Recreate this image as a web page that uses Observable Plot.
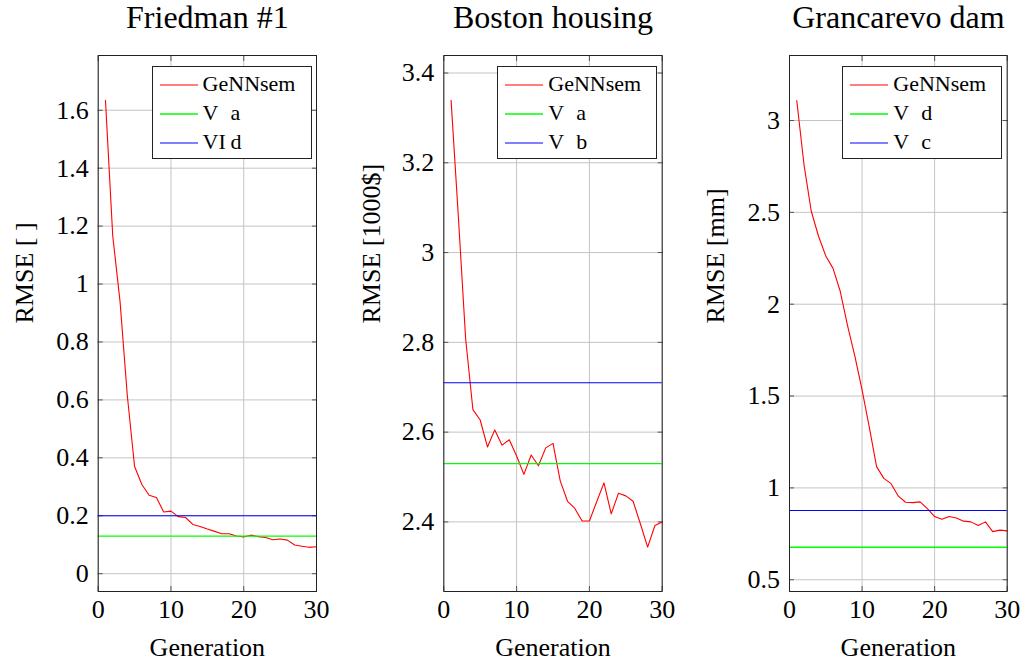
<!DOCTYPE html>
<html><head><meta charset="utf-8">
<script src="https://cdn.jsdelivr.net/npm/d3@7"></script>
<script src="https://cdn.jsdelivr.net/npm/@observablehq/plot@0.6"></script>
<style>
html,body{margin:0;padding:0;background:#fff;}
#root{position:relative;width:1023px;height:664px;overflow:hidden;font-family:"Liberation Serif",serif;}
.panel{position:absolute;top:0;}
.panel svg{overflow:visible;}
.legend{position:absolute;background:#fff;border:1px solid #222;box-sizing:border-box;font-size:22px;color:#000;}
.legend svg.sw{position:absolute;left:7px;width:38px;height:4px;overflow:visible;}
.legend .t{position:absolute;height:28px;line-height:28px;white-space:pre;}
</style></head>
<body><div id="root"></div>
<script>
const generations = d3.range(1, 31);
const xTicks = [0, 10, 20, 30];

const titles = ["Friedman #1", "Boston housing", "Grancarevo dam"];
const yLabels = ["RMSE [ ]", "RMSE [1000$]", "RMSE [mm]"];
const xLabel = "Generation";

const friedman = [1.634, 1.166, 0.94, 0.615, 0.370, 0.308, 0.271, 0.263, 0.213, 0.216, 0.197, 0.194, 0.170, 0.163, 0.154, 0.146, 0.138, 0.138, 0.130, 0.127, 0.133, 0.128, 0.125, 0.117, 0.120, 0.116, 0.099, 0.095, 0.091, 0.093];
const boston = [3.339, 3.08, 2.808, 2.65, 2.627, 2.567, 2.605, 2.571, 2.583, 2.547, 2.506, 2.549, 2.525, 2.565, 2.575, 2.491, 2.446, 2.43, 2.402, 2.402, 2.445, 2.487, 2.418, 2.464, 2.458, 2.446, 2.396, 2.344, 2.392, 2.4];
const grancarevo = [3.109, 2.759, 2.506, 2.37, 2.263, 2.195, 2.069, 1.884, 1.719, 1.534, 1.33, 1.116, 1.052, 1.023, 0.955, 0.922, 0.92, 0.924, 0.887, 0.844, 0.829, 0.844, 0.836, 0.819, 0.815, 0.795, 0.815, 0.762, 0.77, 0.766];

const greenRefs = [0.13, 2.53, 0.677];
const blueRefs = [0.2, 2.71, 0.877];

const legendNames = [["GeNNsem", "V a", "VI d"], ["GeNNsem", "V a", "V b"], ["GeNNsem", "V d", "V c"]];
const seriesColors = ["#ff0000", "#00ff00", "#0000ff"];

const yTicksList = [
  [0, 0.2, 0.4, 0.6, 0.8, 1, 1.2, 1.4, 1.6],
  [2.4, 2.6, 2.8, 3, 3.2, 3.4],
  [0.5, 1, 1.5, 2, 2.5, 3]
];
const yDomains = [[-0.0615, 1.789], [2.245, 3.439], [0.436, 3.354]];
const seriesValues = [friedman, boston, grancarevo];

// layout
const panelLefts = [0, 341, 682];
const panelW = 341;
const marginLefts = [97.7, 102.3, 107];
const frameWidths = [218.3, 218.4, 217.7];
const yLabelDx = [-74, -72, -74];

const root = document.getElementById("root");
const SVGNS = "http://www.w3.org/2000/svg";

for (let p = 0; p < 3; p++) {
  const rows = seriesValues[p].map((v, i) => ({g: generations[i], v}));
  const gridStyle = {stroke: "#c4c4c4", strokeOpacity: 1, strokeWidth: 1};
  const noLabel = () => "";
  const chart = Plot.plot({
    width: panelW, height: 664,
    marginTop: 55, marginBottom: 73,
    marginLeft: marginLefts[p], marginRight: panelW - marginLefts[p] - frameWidths[p],
    style: {fontFamily: "'Liberation Serif', serif", fontSize: "26px", color: "#000", background: "transparent"},
    x: {domain: [0, 30]},
    y: {domain: yDomains[p]},
    marks: [
      Plot.gridX(xTicks, gridStyle),
      Plot.gridY(yTicksList[p], gridStyle),
      Plot.axisX(xTicks, {anchor: "top", tickSize: -5, tickFormat: noLabel, label: null, stroke: "#555"}),
      Plot.axisY(yTicksList[p], {anchor: "right", tickSize: -5, tickFormat: noLabel, label: null, stroke: "#555"}),
      Plot.axisX(xTicks, {anchor: "bottom", tickSize: -5, tickPadding: 13.5, label: null, tickFormat: d => String(d), stroke: "#555"}),
      Plot.axisY(yTicksList[p], {anchor: "left", tickSize: -5, tickPadding: 14.5, label: null, tickFormat: d => String(d), stroke: "#555"}),
      Plot.line(rows, {x: "g", y: "v", stroke: seriesColors[0], strokeWidth: 1.1}),
      Plot.ruleY([greenRefs[p]], {stroke: seriesColors[1], strokeWidth: 1.3}),
      Plot.ruleY([blueRefs[p]], {stroke: seriesColors[2], strokeWidth: 1.1}),
      Plot.frame({stroke: "#222", strokeWidth: 1}),
      Plot.text([titles[p]], {frameAnchor: "top", lineAnchor: "bottom", dy: -28, fontSize: 32}),
      Plot.text([xLabel], {frameAnchor: "bottom", lineAnchor: "bottom", dy: 64, fontSize: 26}),
      Plot.text([yLabels[p]], {frameAnchor: "left", rotate: -90, dx: yLabelDx[p], fontSize: 26})
    ]
  });
  const wrap = document.createElement("div");
  wrap.className = "panel";
  wrap.style.left = panelLefts[p] + "px";
  wrap.appendChild(chart);
  root.appendChild(wrap);

  // legend
  const frameRight = panelLefts[p] + marginLefts[p] + frameWidths[p];
  const lg = document.createElement("div");
  lg.className = "legend";
  const lgW = 160;
  lg.style.left = (frameRight - 4.4 - lgW) + "px";
  lg.style.top = "66px";
  lg.style.width = lgW + "px";
  lg.style.height = "93px";
  const rowY = [18, 47, 76];
  legendNames[p].forEach((name, i) => {
    const sw = document.createElementNS(SVGNS, "svg");
    sw.setAttribute("class", "sw");
    sw.style.top = (rowY[i] - 2) + "px";
    const ln = document.createElementNS(SVGNS, "line");
    ln.setAttribute("x1", 0); ln.setAttribute("x2", 38);
    ln.setAttribute("y1", 2); ln.setAttribute("y2", 2);
    ln.setAttribute("stroke", seriesColors[i]);
    ln.setAttribute("stroke-width", i === 1 ? 1.4 : 1.1);
    sw.appendChild(ln);
    lg.appendChild(sw);
    const parts = name.split(" ");
    const offs = [50, 78];
    parts.forEach((part, k) => {
      const s = document.createElement("span");
      s.className = "t";
      s.textContent = part;
      s.style.left = offs[k] + "px";
      s.style.top = (rowY[i] - 15) + "px";
      lg.appendChild(s);
    });
  });
  root.appendChild(lg);
}
</script>
</body></html>
